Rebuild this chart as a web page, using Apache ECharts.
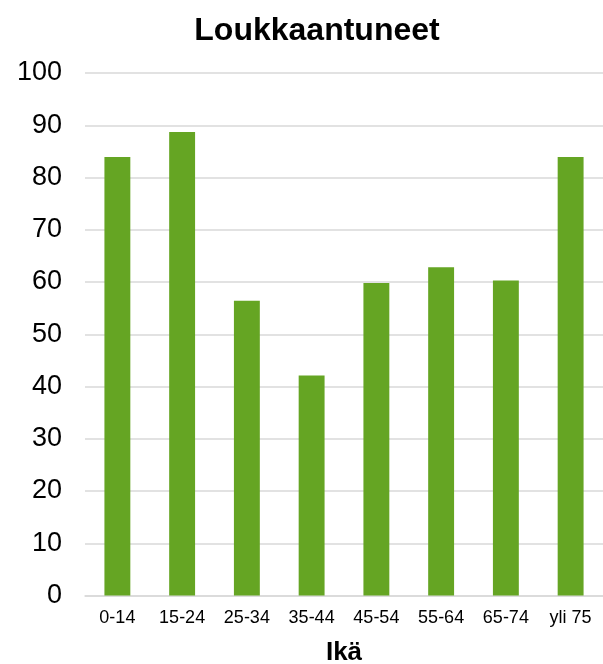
<!DOCTYPE html>
<html>
<head>
<meta charset="utf-8">
<script src="https://cdn.jsdelivr.net/npm/echarts@6/dist/echarts.min.js"></script>
<style>
html,body{margin:0;padding:0;background:#fff;}
#chart{width:603px;height:664px;}
</style>
</head>
<body>
<div id="chart"></div>
<script>
const categories = ['0-14', '15-24', '25-34', '35-44', '45-54', '55-64', '65-74', 'yli 75'];
const values = [83.9, 88.7, 56.4, 42.1, 59.8, 62.8, 60.3, 83.9];
const titleText = 'Loukkaantuneet';
const xAxisName = 'Ikä';

const FONT = 'Arial, "Liberation Sans", sans-serif';
const chart = echarts.init(document.getElementById('chart'), null, {renderer: 'canvas'});
chart.setOption({
  animation: false,
  backgroundColor: '#ffffff',
  title: {
    text: titleText,
    left: 312,
    textAlign: 'center',
    top: 10,
    textStyle: {fontFamily: FONT, fontSize: 32, fontWeight: 'bold', color: '#000'}
  },
  grid: {left: 85, right: 0, top: 73, bottom: 68.5, containLabel: false, outerBoundsMode: 'none'},
  xAxis: {
    type: 'category',
    data: categories,
    name: xAxisName,
    nameLocation: 'middle',
    nameGap: 44,
    nameTextStyle: {fontFamily: FONT, fontSize: 26, fontWeight: 'bold', color: '#000'},
    axisLine: {lineStyle: {color: '#d9d9d9', width: 1.5}},
    axisTick: {show: false},
    axisLabel: {fontFamily: FONT, fontSize: 18, color: '#000', margin: 14}
  },
  yAxis: {
    type: 'value',
    min: 0,
    max: 100,
    interval: 10,
    axisLine: {show: false},
    axisTick: {show: false},
    splitLine: {lineStyle: {color: '#d9d9d9', width: 1.5}},
    axisLabel: {fontFamily: FONT, fontSize: 27, color: '#000', margin: 23}
  },
  series: [{
    type: 'bar',
    data: values,
    barWidth: '40%',
    itemStyle: {color: '#65a523'}
  }]
});
</script>
</body>
</html>
